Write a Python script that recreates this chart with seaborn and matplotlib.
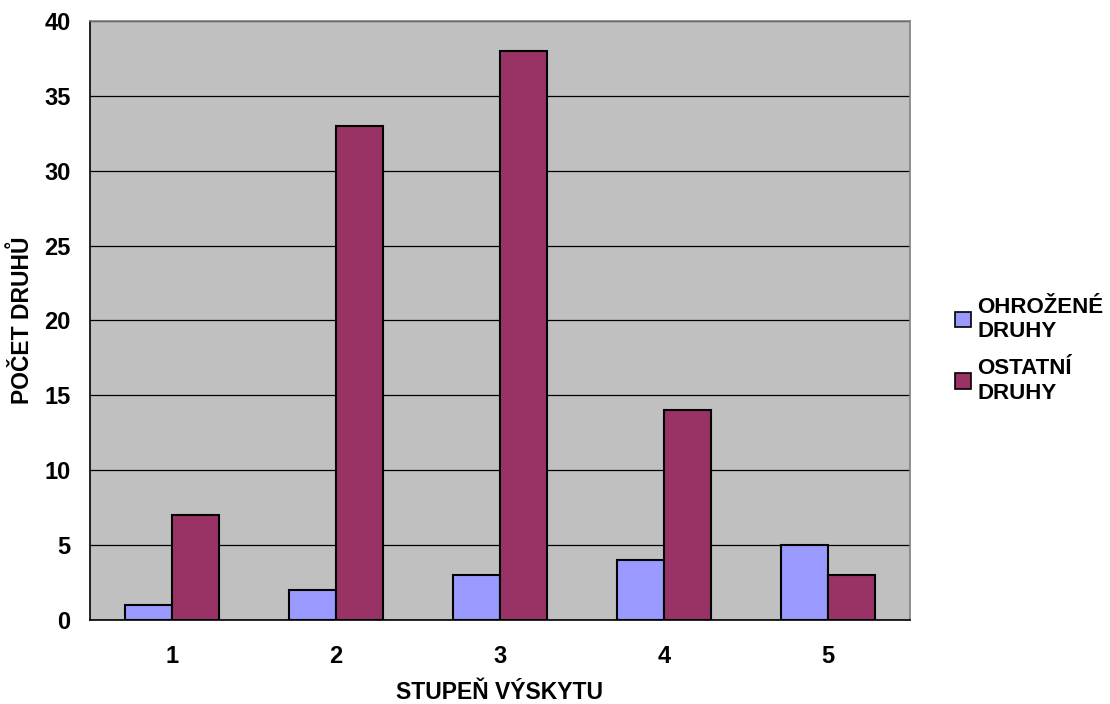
import matplotlib
matplotlib.use("Agg")
import matplotlib.pyplot as plt
import seaborn as sns
import pandas as pd

# Data
categories = ["1", "2", "3", "4", "5"]
ohrozene = [1, 2, 3, 4, 5]
ostatni = [7, 33, 38, 14, 3]
series_names = ["OHROŽENÉ\nDRUHY", "OSTATNÍ\nDRUHY"]
colors = ["#9999FF", "#993366"]

df = pd.DataFrame({
    "stupen": categories * 2,
    "pocet": ohrozene + ostatni,
    "skupina": [series_names[0]] * len(categories) + [series_names[1]] * len(categories),
})

sns.set_style("white")
plt.rcParams["font.family"] = ["Liberation Sans", "DejaVu Sans"]
plt.rcParams["font.weight"] = "bold"
for key in ["text.color", "axes.labelcolor", "xtick.color", "ytick.color"]:
    plt.rcParams[key] = "black"

fig = plt.figure(figsize=(11.1, 7.04), dpi=100)
ax = fig.add_axes([0.0811, 0.1193, 0.7387, 0.8509])
ax.set_facecolor("#C0C0C0")

sns.barplot(data=df, x="stupen", y="pocet", hue="skupina", order=categories,
            hue_order=series_names, palette=colors, saturation=1, width=0.57, gap=0,
            edgecolor="black", linewidth=1.5, ax=ax, legend=True)

ax.set_ylim(0, 40)
ax.set_xlim(-0.5, 4.5)
ax.set_yticks(range(0, 41, 5))
ax.yaxis.grid(True, color="black", linewidth=0.9)
ax.set_axisbelow(True)

# category ticks sit between groups, labels centred under groups
ax.set_xticks([i - 0.5 for i in range(len(categories) + 1)])
ax.set_xticklabels([])
ax.set_xticks(range(len(categories)), minor=True)
ax.set_xticklabels(categories, minor=True)
ax.tick_params(axis="x", which="major", length=7, width=1, color="black", direction="out")
ax.tick_params(axis="x", which="minor", length=0, pad=18, labelsize=17)
ax.tick_params(axis="y", length=7, width=1, color="black", direction="out", labelsize=17, pad=7)

for lab in ax.get_xticklabels(minor=True) + ax.get_yticklabels():
    lab.set_fontweight("bold")

for side in ["left", "bottom"]:
    ax.spines[side].set_color("black")
    ax.spines[side].set_linewidth(1.2)
for side in ["top", "right"]:
    ax.spines[side].set_color("#808080")
    ax.spines[side].set_linewidth(1.2)

ax.set_xlabel("STUPEŇ VÝSKYTU", fontsize=16.5, fontweight="bold", labelpad=9)
ax.set_ylabel("POČET DRUHŮ", fontsize=16.5, fontweight="bold", labelpad=7)

leg = ax.legend(loc="upper left", bbox_to_anchor=(1.055, 0.54), frameon=False,
                borderpad=0, borderaxespad=0,
                prop={"size": 16, "weight": "bold"}, handlelength=0.7,
                handleheight=0.7, handletextpad=0.3, labelspacing=0.75)
for h in leg.legend_handles:
    h.set_edgecolor("black")
    h.set_linewidth(1.2)

fig.savefig("out.png", dpi=100)
